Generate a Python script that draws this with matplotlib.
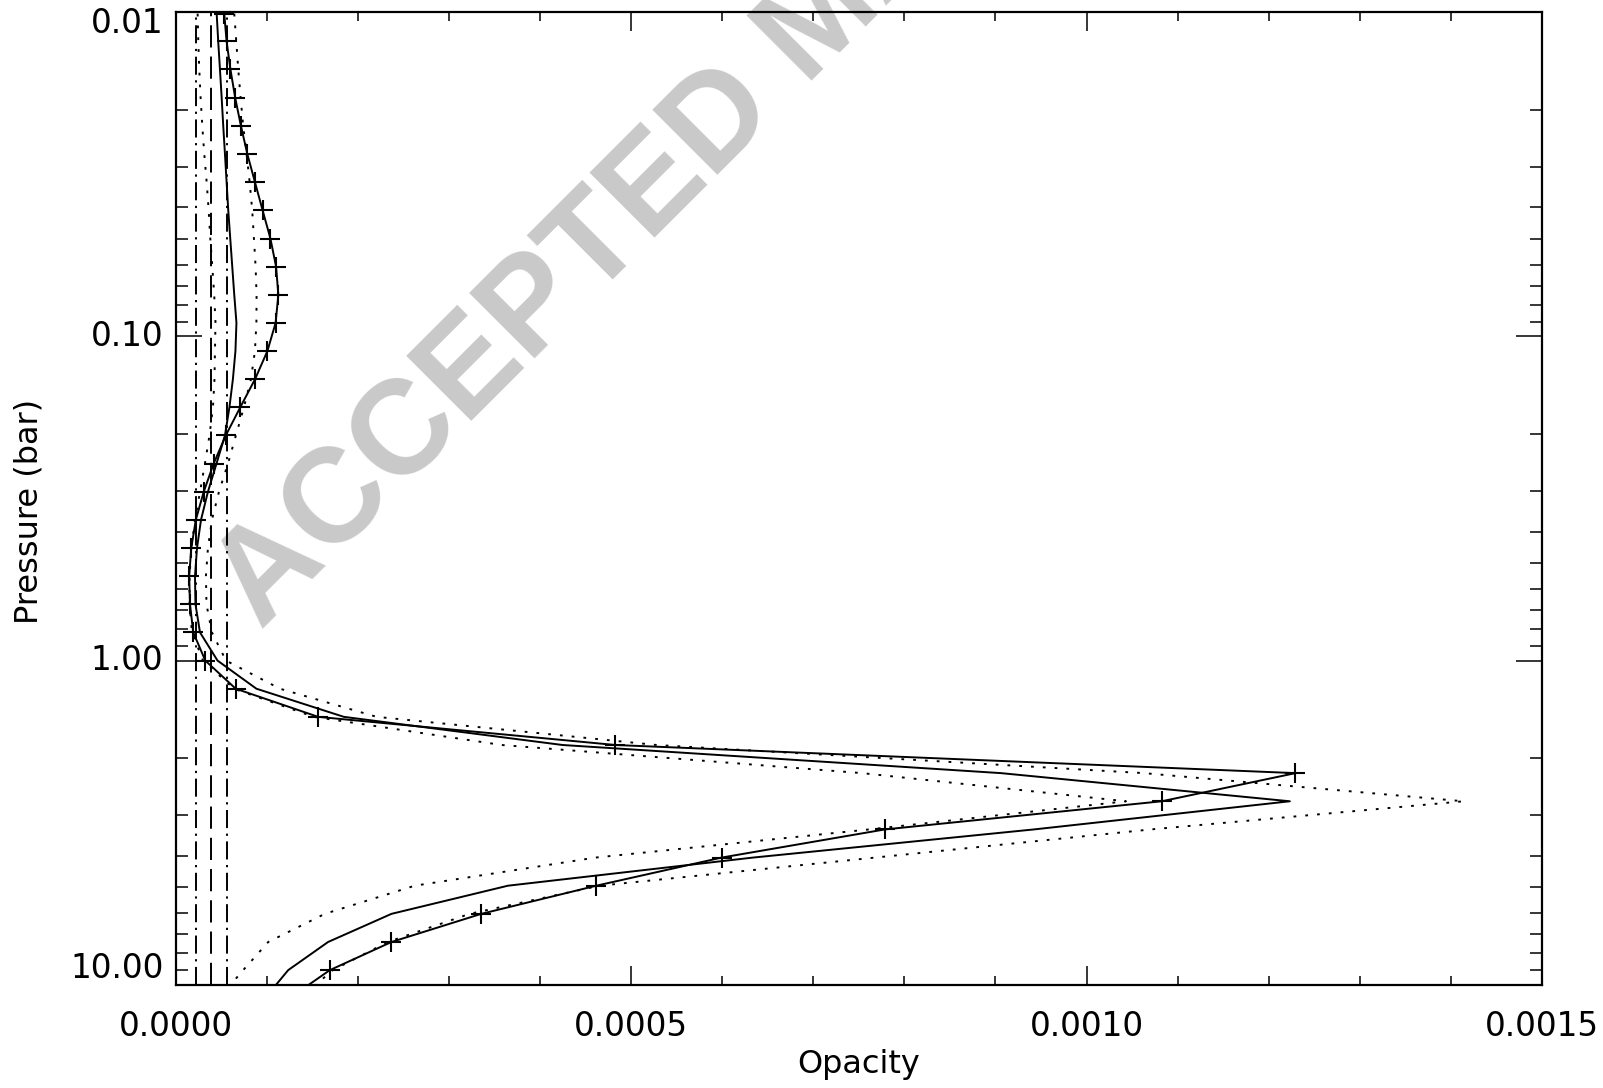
import matplotlib
matplotlib.use("Agg")
import matplotlib.pyplot as plt
import matplotlib.transforms as mtransforms
from matplotlib.ticker import FixedLocator, NullFormatter

# ---------------- data (opacity in units of 1e-5) ----------------
pressure = [0.0101, 0.0123, 0.0150, 0.0184, 0.0224, 0.0274, 0.0334, 0.0408,
            0.0499, 0.0609, 0.0744, 0.0908, 0.1109, 0.1355, 0.1654, 0.2020,
            0.2468, 0.3014, 0.3680, 0.4495, 0.5490, 0.6704, 0.8188, 1.0000,
            1.2213, 1.4916, 1.8217, 2.2248, 2.7172, 3.3185, 4.0529, 4.9498,
            6.0451, 7.3829, 9.0167, 11.012]

true_profile = [5.35, 5.61, 6.03, 6.56, 7.18, 7.89, 8.72, 9.56,
                10.42, 11.04, 11.29, 10.99, 10.09, 8.73, 7.11, 5.52,
                4.19, 3.10, 2.23, 1.73, 1.50, 1.59, 1.95, 3.27,
                6.61, 15.66, 48.27, 122.94, 108.25, 77.87, 59.96, 46.19,
                33.57, 23.71, 16.94, 12.50]

retrieved = [4.52, 4.69, 4.88, 5.07, 5.24, 5.43, 5.61, 5.79,
             6.01, 6.23, 6.45, 6.69, 6.58, 6.30, 5.92, 5.43,
             4.50, 3.56, 2.80, 2.36, 2.14, 2.19, 2.69, 4.61,
             8.88, 18.48, 42.49, 90.63, 122.32, 94.24, 63.40, 36.49,
             23.71, 16.75, 12.37, 9.81]

retrieved_low = [2.43, 2.50, 2.61, 2.76, 2.94, 3.16, 3.42, 3.64,
                 3.82, 4.04, 4.25, 4.39, 4.33, 4.28, 4.11, 3.73,
                 3.23, 2.69, 2.14, 1.75, 1.54, 1.54, 1.81, 3.02,
                 6.41, 15.19, 35.80, 75.38, 104.33, 76.15, 46.11, 26.26,
                 16.39, 10.18, 7.43, 4.77]

retrieved_high = [6.45, 6.67, 6.89, 7.15, 7.43, 7.81, 8.14, 8.42,
                  8.61, 8.79, 8.90, 8.88, 8.72, 8.28, 7.51, 6.63,
                  5.76, 4.77, 4.00, 3.56, 3.34, 3.40, 4.00, 5.54,
                  11.46, 22.09, 52.80, 106.31, 141.40, 107.07, 76.81, 46.55,
                  32.29, 23.30, 17.27, 13.65]

apriori = 3.95
apriori_low = 2.20
apriori_high = 5.70
unit = 1e-5

xticks = [0.0, 0.0005, 0.0010, 0.0015]
xticklabels = ["0.0000", "0.0005", "0.0010", "0.0015"]
xminor = [0.0001, 0.0002, 0.0003, 0.0004, 0.0006, 0.0007, 0.0008, 0.0009,
          0.0011, 0.0012, 0.0013, 0.0014]
yticks = [0.01, 0.1, 1.0, 10.0]
yticklabels = ["0.01", "0.10", "1.00", "10.00"]
yminor = [0.02, 0.03, 0.04, 0.05, 0.06, 0.07, 0.08, 0.09,
          0.2, 0.3, 0.4, 0.5, 0.6, 0.7, 0.8, 0.9,
          2, 3, 4, 5, 6, 7, 8, 9]

xlabel = "Opacity"
ylabel = "Pressure (bar)"
watermark = "ACCEPTED MANUSCRIPT"

# ---------------- figure ----------------
plt.rcParams["font.family"] = ["DejaVu Sans"]
plt.rcParams["lines.scale_dashes"] = False

W, H = 1603, 1088
fig = plt.figure(figsize=(W / 100, H / 100), dpi=100)
fig.patch.set_facecolor("white")

x0, x1, ytop, ybot = 175.5, 1542.0, 12.3, 984.7
ax = fig.add_axes([x0 / W, 1 - ybot / H, (x1 - x0) / W, (ybot - ytop) / H])
ax.patch.set_alpha(0)

fig.text(0.163, 0.420, watermark, rotation=45, rotation_mode="anchor",
         ha="left", va="baseline", fontsize=96, fontweight="bold",
         family="Liberation Sans", color="#c9c9c9", zorder=-5)

ax.set_yscale("log")
ax.set_xlim(0, 0.0015)
ax.set_ylim(10, 0.01)

lw = 1.4
def sc(v):
    return [a * unit for a in v]

dash_dot = (0, (13, 4, 1.6, 4))
dashed = (0, (16, 6.5))
dotted = (0, (2.0, 6.5))

ax.axvline(apriori_low * unit, color="k", lw=lw, ls=dash_dot)
ax.axvline(apriori_high * unit, color="k", lw=lw, ls=dash_dot)
ax.axvline(apriori * unit, color="k", lw=lw, ls=dashed)

ax.plot(sc(retrieved_low), pressure, color="k", lw=lw, ls=dotted)
ax.plot(sc(retrieved_high), pressure, color="k", lw=lw, ls=dotted)
ax.plot(sc(retrieved), pressure, color="k", lw=lw, ls="-")
ax.plot(sc(true_profile), pressure, color="k", lw=lw, ls="-",
        marker="+", ms=14.5, mew=1.5)

# ticks
ax.xaxis.set_major_locator(FixedLocator(xticks))
ax.xaxis.set_minor_locator(FixedLocator(xminor))
ax.set_xticklabels(xticklabels)
ax.yaxis.set_major_locator(FixedLocator(yticks))
ax.yaxis.set_minor_locator(FixedLocator(yminor))
ax.yaxis.set_minor_formatter(NullFormatter())
ax.set_yticklabels([])

ax.tick_params(axis="x", which="major", direction="in", length=13.7, width=1.1,
               top=True, bottom=True, labelsize=23.5, pad=18)
ax.tick_params(axis="x", which="minor", direction="in", length=6.5, width=1.1,
               top=True, bottom=True)
ax.tick_params(axis="y", which="major", direction="in", length=18.5, width=1.1,
               left=True, right=True)
ax.tick_params(axis="y", which="minor", direction="in", length=8.9, width=1.1,
               left=True, right=True)

for s in ax.spines.values():
    s.set_linewidth(1.6)

# y tick labels (first/last nudged inward as in the original)
yoffsets = [-8.0, 0.0, 0.0, 11.5]
for p, lab, dy in zip(yticks, yticklabels, yoffsets):
    tr = ax.get_yaxis_transform() + mtransforms.ScaledTranslation(
        -8.6 / 72, dy / 72, fig.dpi_scale_trans)
    ax.text(0, p, lab, transform=tr, ha="right", va="center",
            fontsize=23.5, clip_on=False)

fig.text(858.7 / W, 1 - 1065 / H, xlabel, ha="center", va="center", fontsize=23)
fig.text(28.6 / W, 1 - 511 / H, ylabel, ha="center", va="center",
         rotation=90, fontsize=23)

fig.savefig("out.png", dpi=100, facecolor="white")
